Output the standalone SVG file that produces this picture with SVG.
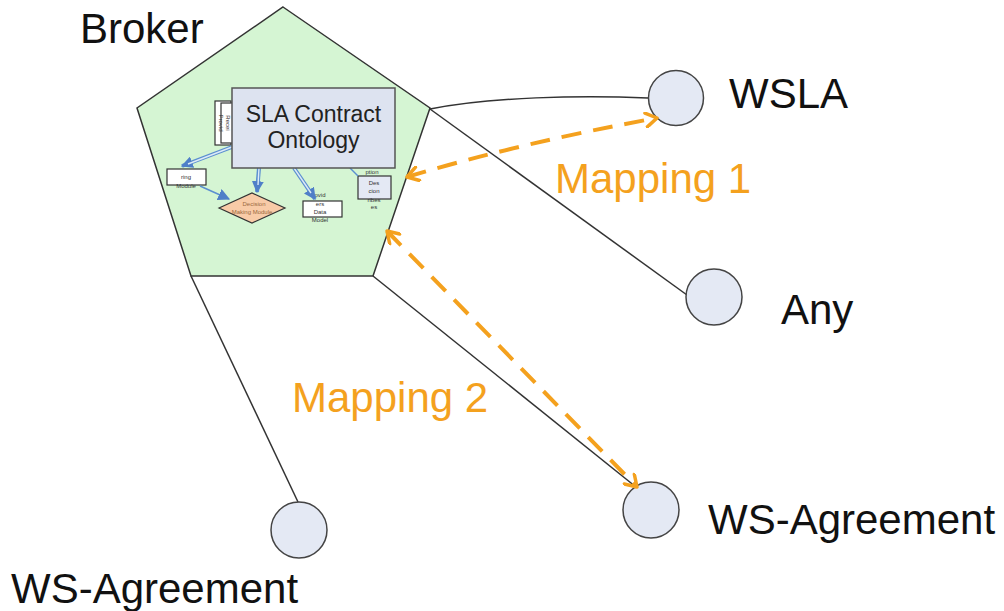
<svg xmlns="http://www.w3.org/2000/svg" width="1004" height="611" viewBox="0 0 1004 611">
<defs>
<style>
.lbl{font-family:"Liberation Sans",Arial,sans-serif;font-size:42px;fill:#111}
.map{font-family:"Liberation Sans",Arial,sans-serif;font-size:42px;fill:#F4A11E}
.node{fill:#E4E9F4;stroke:#444;stroke-width:1.5}
.conn{fill:none;stroke:#333;stroke-width:1.5}
.dash{fill:none;stroke:#F4A11E;stroke-width:4;stroke-dasharray:20 12;marker-start:url(#oa);marker-end:url(#oa)}
.tiny{font-family:"Liberation Sans",Arial,sans-serif;font-size:6px;fill:#333;text-anchor:middle}
.sbox{fill:#fff;stroke:#333;stroke-width:1.2}
.barrow{fill:none;stroke:#5B8FD0;stroke-width:4}
.binner{fill:none;stroke:#DDEBF7;stroke-width:1.4}
</style>
<marker id="oa" viewBox="0 0 16 16" refX="13" refY="8" markerWidth="16" markerHeight="16" markerUnits="userSpaceOnUse" orient="auto-start-reverse">
<path d="M2,1 L13,8 L2,15" fill="none" stroke="#F4A11E" stroke-width="3.5" stroke-linecap="round" stroke-linejoin="round"/>
</marker>
<marker id="ba" viewBox="0 0 10 10" refX="9" refY="5" markerWidth="12" markerHeight="12" markerUnits="userSpaceOnUse" orient="auto">
<path d="M0,0 L10,5 L0,10 Z" fill="#4F7FC8"/>
</marker>
</defs>

<g id="connectors">
<path class="conn" d="M430,109 C490,97 580,95 648,98"/>
<path class="conn" d="M430,109 L687,295"/>
<path class="conn" d="M373,276 L636,487"/>
<path class="conn" d="M191,276 L298,502"/>
</g>

<g id="broker">
<polygon points="283,7 430,108 373,276 191,276 137,108" fill="#D5F5D3" stroke="#333" stroke-width="1.5"/>
<text class="lbl" x="80" y="43">Broker</text>
<g id="broker-inner">
<rect x="215" y="101" width="16" height="44" class="sbox"/>
<rect x="221" y="103" width="12" height="40" class="sbox"/>
<text class="tiny" transform="translate(219,123) rotate(90)">Provid</text>
<text class="tiny" transform="translate(226,123) rotate(90)">Recei</text>
<rect x="167" y="169" width="39" height="16" class="sbox"/>
<text class="tiny" x="186" y="179">ring</text>
<text class="tiny" x="186" y="188">Module</text>
<polygon points="219,208 252,193 285,208 252,223" fill="#F8CBA7" stroke="#333" stroke-width="1.2"/>
<text class="tiny" x="254" y="206" style="fill:#9A6A40">Decision</text>
<text class="tiny" x="252" y="214" style="fill:#9A6A40">Making Module</text>
<rect x="303" y="201" width="39" height="16" class="sbox"/>
<text class="tiny" x="320" y="197">ovid</text>
<text class="tiny" x="320" y="206">ers</text>
<text class="tiny" x="320" y="214">Data</text>
<text class="tiny" x="320" y="222">Model</text>
<rect x="358" y="176" width="33" height="23" class="sbox" style="fill:#E4E9F4"/>
<text class="tiny" x="372" y="174">ption</text>
<text class="tiny" x="374" y="185">Des</text>
<text class="tiny" x="374" y="193">cion</text>
<text class="tiny" x="374" y="202">ribes</text>
<text class="tiny" x="374" y="209">es</text>
<path class="barrow" d="M232,147 L182,166" marker-end="url(#ba)"/>
<path class="binner" d="M232,147 L188,164"/>
<path d="M200,186 L229,199" stroke="#5B8FD0" stroke-width="1.5" fill="none" marker-end="url(#ba)"/>
<path class="barrow" d="M259,168 L257,192" marker-end="url(#ba)"/>
<path class="binner" d="M259,168 L258,185"/>
<path class="barrow" d="M294,168 L315,199" marker-end="url(#ba)"/>
<path class="binner" d="M294,168 L311,193"/>
<path d="M350,168 L358,176" stroke="#5B8FD0" stroke-width="1.5" fill="none"/>
<rect x="232" y="88" width="163" height="80" fill="#DDE3F0" stroke="#555" stroke-width="1.5"/>
<text x="313.5" y="122" text-anchor="middle" style="font-family:'Liberation Sans',Arial,sans-serif;font-size:23px;fill:#222">SLA Contract</text>
<text x="313.5" y="148" text-anchor="middle" style="font-family:'Liberation Sans',Arial,sans-serif;font-size:23px;fill:#222">Ontology</text>
</g>
</g>

<g id="wsla">
<circle class="node" cx="676" cy="98" r="27.5"/>
<text class="lbl" x="729" y="108">WSLA</text>
</g>
<g id="any">
<circle class="node" cx="714" cy="297" r="28"/>
<text class="lbl" x="781" y="324">Any</text>
</g>
<g id="wsagreement-right">
<circle class="node" cx="651" cy="510" r="28"/>
<text class="lbl" x="708" y="534">WS-Agreement</text>
</g>
<g id="wsagreement-left">
<circle class="node" cx="299" cy="530" r="28"/>
<text class="lbl" x="11" y="603">WS-Agreement</text>
</g>

<g id="mappings">
<path class="dash" d="M407,177 Q520,143 657,118"/>
<path class="dash" d="M387,231 L637,487"/>
<text class="map" x="555" y="193">Mapping 1</text>
<text class="map" x="292" y="412">Mapping 2</text>
</g>
</svg>
